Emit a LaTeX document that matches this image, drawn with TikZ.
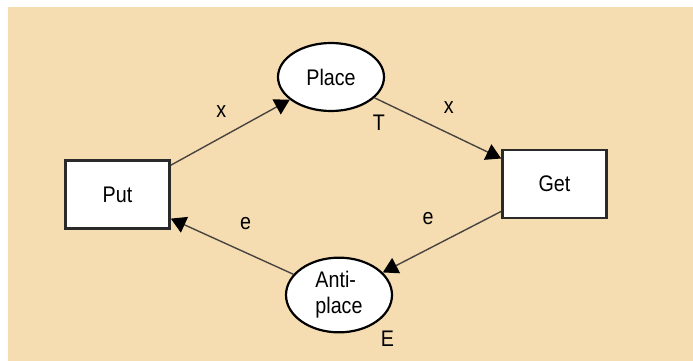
\documentclass[tikz,border=0pt]{standalone}
\usepackage{fontspec}
\setmainfont{Liberation Sans}
\usetikzlibrary{arrows.meta,shapes.geometric}
\definecolor{bgwheat}{HTML}{F5DDB1}
\definecolor{edgegrey}{HTML}{4A4440}
\definecolor{boxborder}{HTML}{2A2A2A}
\newcommand{\tallt}[1]{\scalebox{0.96}[1.1]{#1}}
\tikzset{
  txt/.style={font=\fontsize{20.5}{25}\selectfont},
  trans/.style={txt, draw=boxborder, line width=2.6pt, fill=white, rectangle,
    minimum width=104pt, minimum height=68pt, inner sep=0pt},
  place/.style={txt, draw=black, line width=2.2pt, fill=white, ellipse,
    minimum width=106pt, minimum height=68pt, inner sep=0pt},
  arc/.style={draw=edgegrey, line width=1.4pt,
    -{Triangle[length=15pt,width=17pt,fill=black,color=black]}},
  lbl/.style={txt, anchor=base, inner sep=0pt}
}
\begin{document}
\begin{tikzpicture}[x=1pt,y=-1pt]
\useasboundingbox (0,0) rectangle (693,361);
\fill[white] (0,0) rectangle (693,361);
\fill[bgwheat] (7.5,7.5) rectangle (693,361);

\node[trans] (put) at (117.5,194.5) {\tallt{Put}};
\node[trans] (get) at (554.5,184) {\tallt{Get}};
\node[place] (plc) at (331,77) {\tallt{Place}};
\node[place] (anti) at (339,295) {\tallt{\begin{tabular}{@{}l@{}}Anti-\\[-2pt]place\end{tabular}}};

\draw[arc] (put) -- (plc);
\draw[arc] (plc) -- (get);
\draw[arc] (get) -- (anti);
\draw[arc] (anti) -- (put);

\node[lbl] (lx1) at (221.3,117.5) {\tallt{x}};
\node[lbl] (lx2) at (448.7,113) {\tallt{x}};
\node[lbl] (le1) at (245.5,229.5) {\tallt{e}};
\node[lbl] (le2) at (428,224.5) {\tallt{e}};
\node[lbl] (lT) at (379,130) {\tallt{T}};
\node[lbl] (lE) at (387.5,346) {\tallt{E}};
\end{tikzpicture}
\end{document}
